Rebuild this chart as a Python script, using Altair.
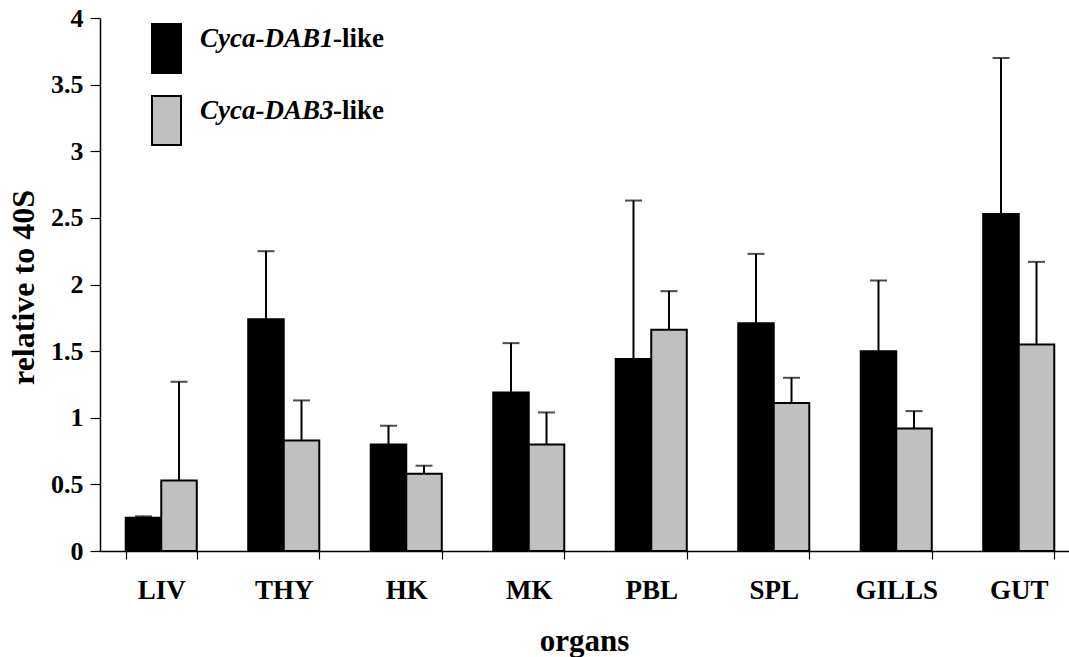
import altair as alt
import pandas as pd

organs = ["LIV", "THY", "HK", "MK", "PBL", "SPL", "GILLS", "GUT"]
series = ["Cyca-DAB1", "Cyca-DAB3"]
dab1_mean = [0.25, 1.74, 0.80, 1.19, 1.44, 1.71, 1.50, 2.53]
dab1_upper = [0.26, 2.25, 0.94, 1.56, 2.63, 2.23, 2.03, 3.70]
dab3_mean = [0.53, 0.83, 0.58, 0.80, 1.66, 1.11, 0.92, 1.55]
dab3_upper = [1.27, 1.13, 0.64, 1.04, 1.95, 1.30, 1.05, 2.17]
y_ticks = [0, 0.5, 1, 1.5, 2, 2.5, 3, 3.5, 4]

rows = []
for i, o in enumerate(organs):
    rows.append({"organ": o, "series": series[0], "value": dab1_mean[i], "upper": dab1_upper[i]})
    rows.append({"organ": o, "series": series[1], "value": dab3_mean[i], "upper": dab3_upper[i]})
df = pd.DataFrame(rows)

FONT = "Liberation Serif"

x_enc = alt.X(
    "organ:N",
    sort=organs,
    scale=alt.Scale(range=[0, 980], paddingInner=0.42, paddingOuter=0.21),
    axis=alt.Axis(
        title="organs",
        labelAngle=0,
        tickBand="extent",
        tickSize=8,
        tickColor="black",
        tickWidth=1.2,
        domainColor="black",
        domainWidth=1.5,
        labelFont=FONT,
        labelFontSize=27,
        labelFontWeight="bold",
        labelColor="black",
        labelPadding=18,
        titleFont=FONT,
        titleFontSize=31,
        titleFontWeight="bold",
        titleColor="black",
        titleBaseline="alphabetic",
        titleX=484,
        titleY=99,
    ),
)
xo_enc = alt.XOffset("series:N", sort=series, scale=alt.Scale(paddingInner=0, paddingOuter=0))
y_scale = alt.Scale(domain=[0, 4], nice=False)

base = alt.Chart(df).encode(x=x_enc, xOffset=xo_enc)

bars = base.mark_bar(stroke="black", strokeWidth=2).encode(
    y=alt.Y(
        "value:Q",
        scale=y_scale,
        axis=alt.Axis(
            values=y_ticks,
            format="~g",
            title="relative to 40S",
            grid=False,
            tickSize=10,
            tickColor="black",
            tickWidth=1.2,
            domainColor="black",
            domainWidth=1.5,
            labelFont=FONT,
            labelFontSize=26,
            labelFontWeight="bold",
            labelColor="black",
            labelPadding=7,
            titleFont=FONT,
            titleFontSize=32,
            titleFontWeight="bold",
            titleColor="black",
            titleBaseline="alphabetic",
            titleX=-67,
            titleY=269,
        ),
    ),
    color=alt.Color("series:N", scale=alt.Scale(domain=series, range=["#000000", "#C0C0C0"]), legend=None),
)

err = base.mark_rule(color="black", strokeWidth=2).encode(
    y=alt.Y("value:Q", scale=y_scale), y2="upper:Q"
)
caps = base.mark_tick(color="black", thickness=2, size=17, orient="horizontal").encode(
    y=alt.Y("upper:Q", scale=y_scale)
)

one = pd.DataFrame({"k": [0]})
leg_black = alt.Chart(one).mark_rect(fill="black", stroke="black", strokeWidth=2).encode(
    x=alt.value(52), x2=alt.value(81), y=alt.value(6), y2=alt.value(55)
)
leg_gray = alt.Chart(one).mark_rect(fill="#C0C0C0", stroke="black", strokeWidth=2).encode(
    x=alt.value(52), x2=alt.value(81), y=alt.value(78), y2=alt.value(127)
)
txt_style = dict(font=FONT, fontSize=27, fontWeight="bold", color="black", align="left", baseline="alphabetic")
leg_t1 = alt.Chart(one).mark_text(text=series[0], fontStyle="italic", **txt_style).encode(
    x=alt.value(100), y=alt.value(29)
)
leg_t1b = alt.Chart(one).mark_text(text="-like", **txt_style).encode(x=alt.value(233), y=alt.value(29))
leg_t2 = alt.Chart(one).mark_text(text=series[1], fontStyle="italic", **txt_style).encode(
    x=alt.value(100), y=alt.value(101)
)
leg_t2b = alt.Chart(one).mark_text(text="-like", **txt_style).encode(x=alt.value(233), y=alt.value(101))

chart = (
    alt.layer(err, caps, bars, leg_black, leg_gray, leg_t1, leg_t1b, leg_t2, leg_t2b)
    .properties(
        width=969,
        height=533,
        autosize=alt.AutoSizeParams(type="none"),
        padding={"left": 100, "top": 18, "right": 0, "bottom": 106},
        background="white",
    )
    .configure_view(stroke="transparent")
)

chart.save("out.html", embed_options={"renderer": "svg", "actions": False})
